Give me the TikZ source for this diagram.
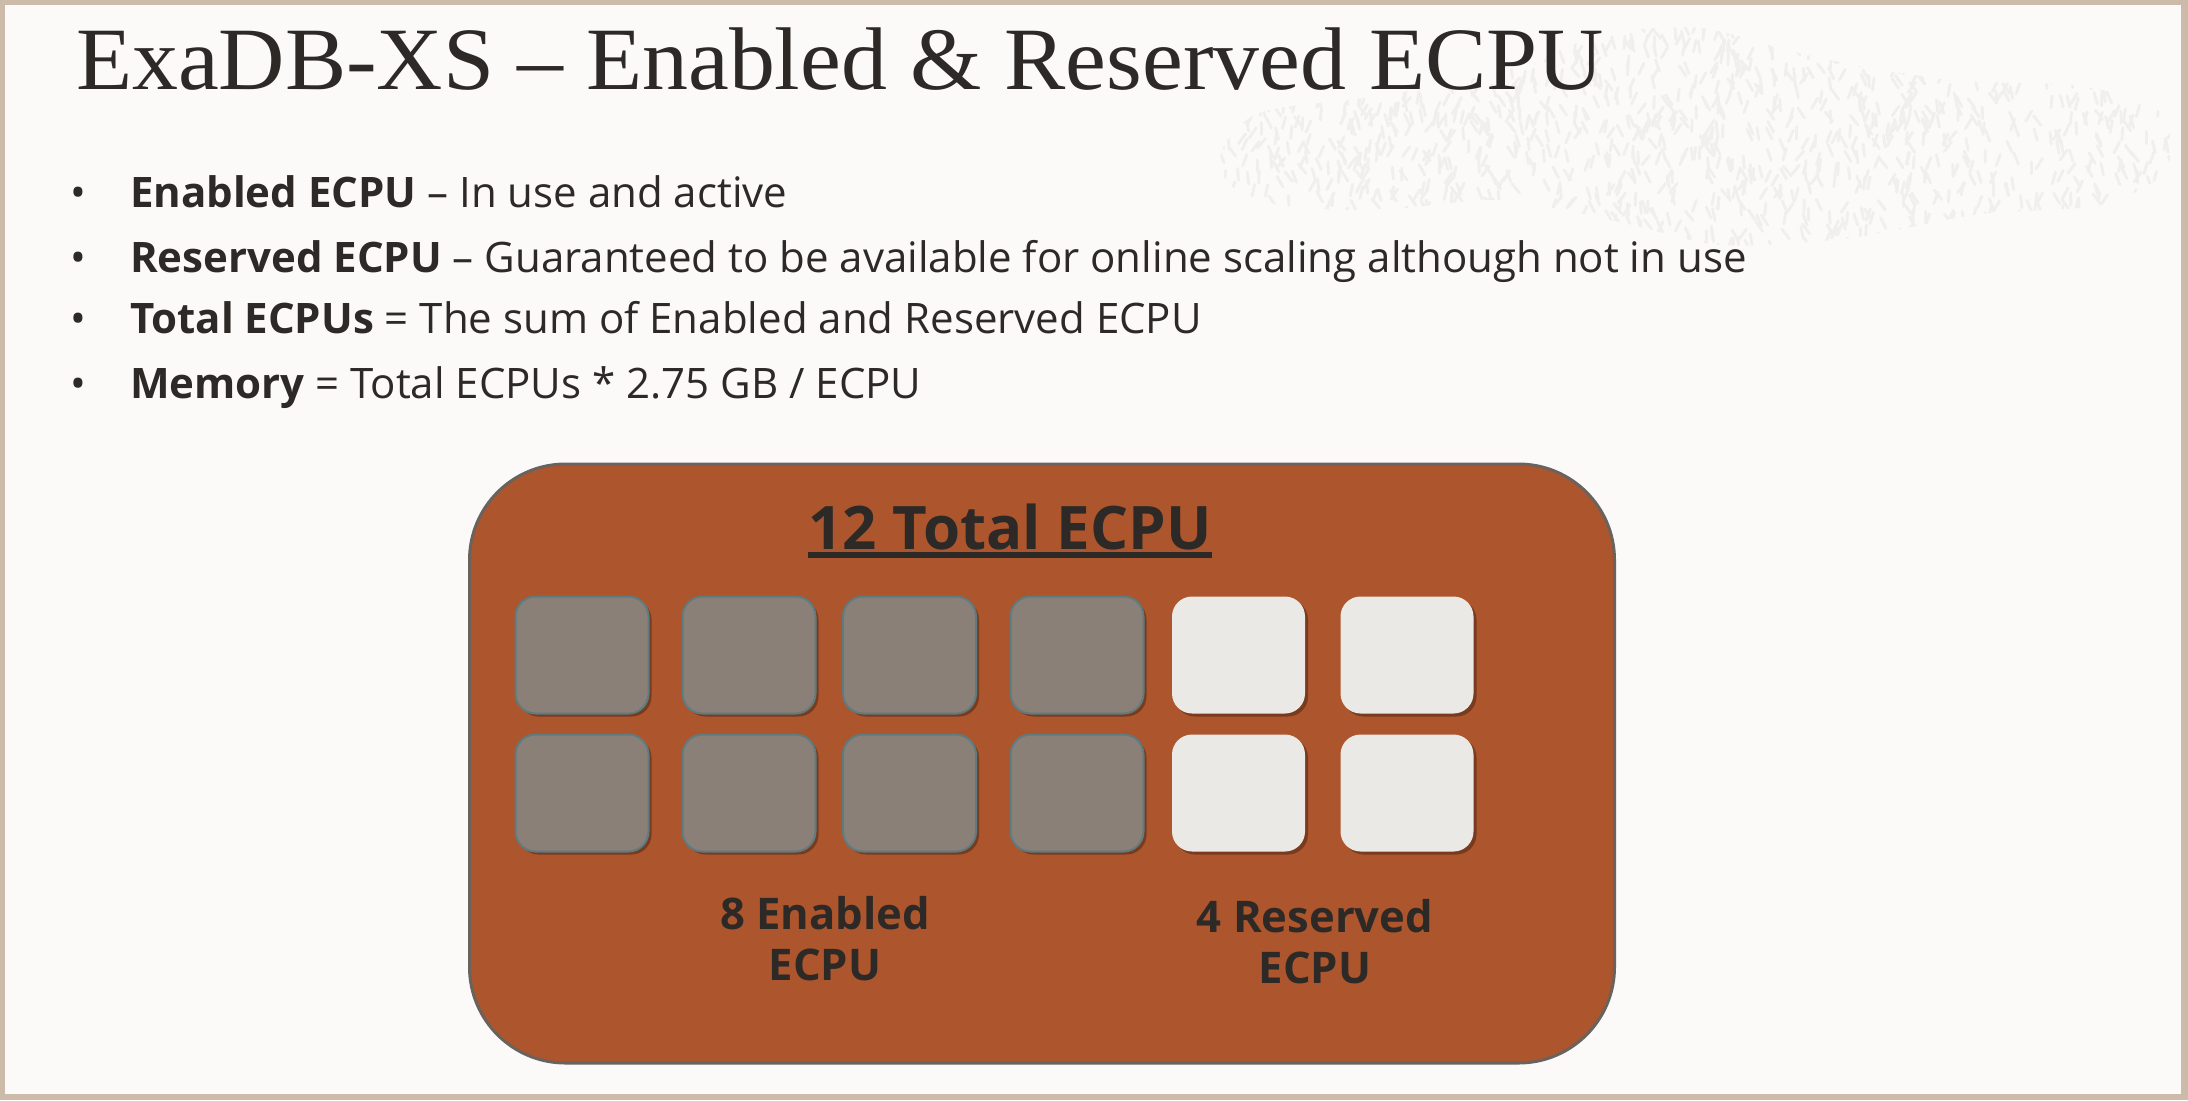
\documentclass[tikz,border=0pt]{standalone}
\usepackage{fontspec}
\setmainfont{Open Sans}
\newfontfamily\titlefont[FakeStretch=1.032]{Liberation Serif}
\usetikzlibrary{shadows}
\definecolor{bgc}{HTML}{FBFAF8}
\definecolor{framec}{HTML}{CDBBAA}
\definecolor{inkc}{HTML}{2D2926}
\definecolor{boxc}{HTML}{AD552C}
\definecolor{boxedge}{HTML}{6A625D}
\definecolor{grayc}{HTML}{8A8078}
\definecolor{grayedge}{HTML}{5E7C80}
\definecolor{whitec}{HTML}{EBE9E6}
\definecolor{blobc}{HTML}{F1EFEC}
\tikzset{
  txt/.style={inner sep=0pt, outer sep=0pt, text=inkc, anchor=base west},
  bul/.style={inner sep=0pt, text=inkc, anchor=base, font=\fontsize{21}{24}\selectfont},
  line/.style={txt, font=\fontsize{21}{24}\selectfont},
  lbl/.style={inner sep=0pt, text=inkc, anchor=base, font=\fontsize{21.8}{26}\selectfont\bfseries},
  cell/.style={minimum width=66.5pt, minimum height=58.5pt, inner sep=0pt, rounded corners=10pt,
    drop shadow={shadow xshift=1.5pt, shadow yshift=-1.5pt, opacity=0.3, fill=black}},
  usedcell/.style={cell, fill=grayc, draw=grayedge, line width=1pt},
  freecell/.style={cell, fill=whitec},
}
\begin{document}
\begin{tikzpicture}[x=0.5pt,y=-0.5pt]
\useasboundingbox (0,0) rectangle (2188,1100);
\fill[framec] (0,0) rectangle (2188,1100);
\fill[bgc] (5,5) rectangle (2181,1094);
% faint background texture
\begin{scope}
\clip plot[smooth cycle] coordinates {(1222,150) (1262,112) (1380,96) (1500,72) (1600,36) (1700,28) (1820,58) (1950,80) (2080,86) (2160,112) (2166,170) (2100,205) (1980,214) (1850,238) (1720,245) (1620,222) (1500,200) (1380,210) (1280,205) (1230,185)};
\pgfmathsetseed{7}
\foreach \i in {1,...,1500}{
  \pgfmathsetmacro\xx{1210+rnd*970}
  \pgfmathsetmacro\yy{20+rnd*240}
  \pgfmathsetmacro\aa{50+rnd*80}
  \draw[blobc, line width=1.4pt, line cap=round] (\xx,\yy) -- ++(\aa:12);
}
\end{scope}
% title
\node[txt, font=\titlefont\fontsize{44.5}{50}\selectfont] (title) at (76,89) {ExaDB-XS – Enabled \& Reserved ECPU};
% bullets
\node[bul] (b1) at (78,207) {•};
\node[bul] (b2) at (78,272) {•};
\node[bul] (b3) at (78,333) {•};
\node[bul] (b4) at (78,398) {•};
\node[line] (l1) at (130,207) {\textbf{Enabled ECPU} – In use and active};
\node[line] (l2) at (130,272) {\textbf{Reserved ECPU} – Guaranteed to be available for online scaling although not in use};
\node[line] (l3) at (130,333) {\textbf{Total ECPUs} = The sum of Enabled and Reserved ECPU};
\node[line] (l4) at (130,398) {\textbf{Memory} = Total ECPUs * 2.75 GB / ECPU};
% big box
\node[draw=boxedge, fill=boxc, line width=1.5pt, rounded corners=48pt, minimum width=572.5pt, minimum height=299.5pt, inner sep=0pt] (box) at (1042,763.5) {};
\node[inner sep=0pt, text=inkc, anchor=base, font=\fontsize{30}{34}\selectfont\bfseries] (tot) at (1010,549) {12 Total ECPU};
\draw[inkc, line width=3pt] ([yshift=-2.8pt]tot.base west) -- ([yshift=-2.8pt]tot.base east);
% cells
\foreach \x [count=\c] in {582,749,909.5,1077}{
  \node[usedcell] (u1\c) at (\x,655) {};
  \node[usedcell] (u2\c) at (\x,793) {};
}
\foreach \x [count=\c] in {1238.5,1407}{
  \node[freecell] (f1\c) at (\x,655) {};
  \node[freecell] (f2\c) at (\x,793) {};
}
\node[lbl] (e1) at (825,929) {8 Enabled};
\node[lbl] (e2) at (825,980) {ECPU};
\node[lbl] (r1) at (1315,932) {4 Reserved};
\node[lbl] (r2) at (1315,983) {ECPU};
\end{tikzpicture}
\end{document}
